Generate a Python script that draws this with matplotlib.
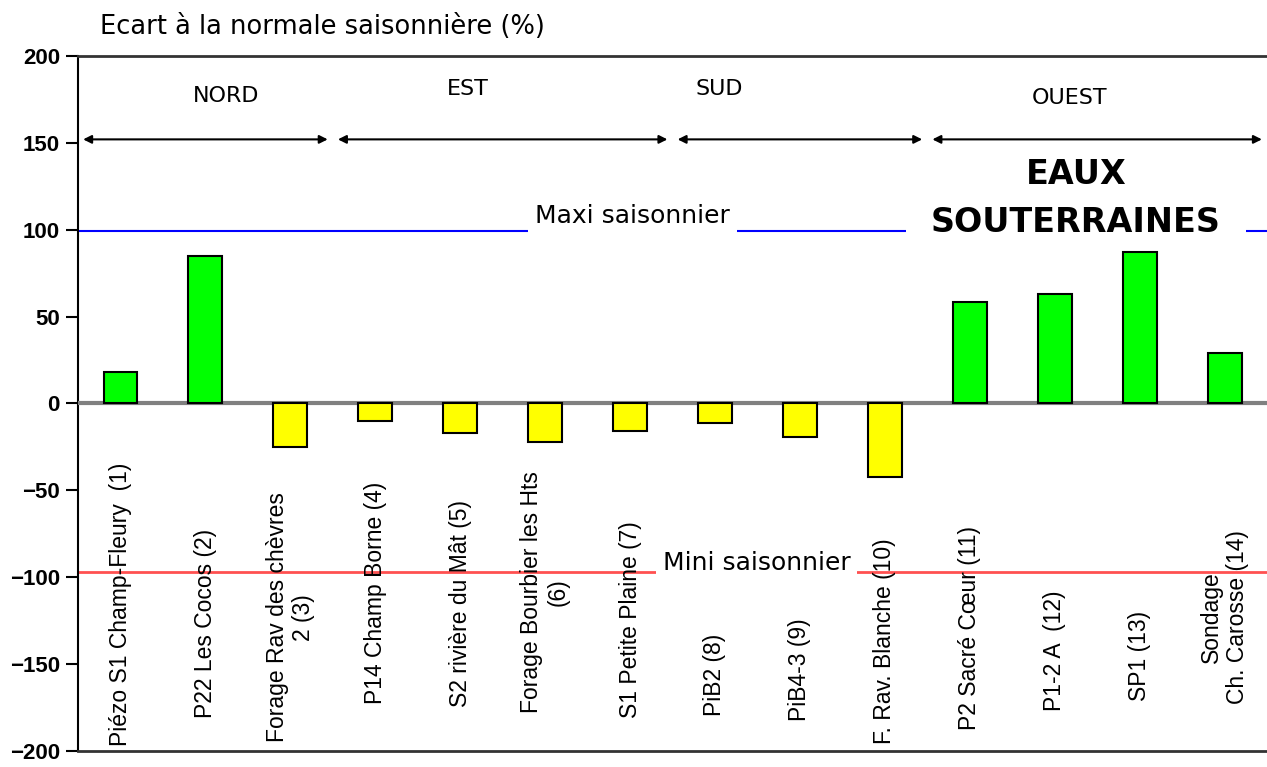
import matplotlib.pyplot as plt
import numpy as np

# Données : écart à la normale saisonnière (%) pour chaque piézomètre
stations = ['Piézo S1 Champ-Fleury  (1)', 'P22 Les Cocos (2)',
            'Forage Rav des chèvres\n2 (3)', 'P14 Champ Borne (4)',
            'S2 rivière du Mât (5)', 'Forage Bourbier les Hts\n(6)',
            'S1 Petite Plaine (7)', 'PiB2 (8)', 'PiB4-3 (9)',
            'F. Rav. Blanche (10)', 'P2 Sacré Cœur (11)', 'P1-2 A  (12)',
            'SP1 (13)', 'Sondage\nCh. Carosse (14)']
ecarts = [18, 85, -25, -10, -17, -22, -16, -11.5, -19.5, -42.5, 58.5, 63, 87, 29]

maxi_saisonnier = 99
mini_saisonnier = -97

# Secteurs géographiques (indices des stations de début et de fin)
secteurs = ['NORD', 'EST', 'SUD', 'OUEST']
secteur_debut = [0, 3, 7, 10]
secteur_fin = [2, 6, 9, 13]

# position des noms de secteurs (x, y) et bas des étiquettes, comme sur l'original
pos_secteurs = [(1.24, 177), (4.09, 181), (7.05, 181), (11.18, 176)]
bas_etiquettes = [-197, -181, -195, -173, -175, -178, -181,
                  -180, -183, -196, -188, -177, -171, -173]

x = np.arange(len(stations))
couleurs = ['#00ff00' if v >= 0 else '#ffff00' for v in ecarts]

fig = plt.figure(figsize=(12.67, 7.67), dpi=100)
ax = fig.add_axes([0.0616, 0.021, 0.9384, 0.906])

# Barres
ax.bar(x, ecarts, width=0.4, color=couleurs, edgecolor='black', linewidth=1.5, zorder=4)
ax.axhline(0, color='#808080', linewidth=3, zorder=3)

# Lignes maxi / mini saisonnier
ax.axhline(maxi_saisonnier, color='#0000ff', linewidth=1.5, zorder=1)
ax.axhline(mini_saisonnier, color='#ff5050', linewidth=2, zorder=1)
ax.text(7.5 - 1.5 + 0.03, maxi_saisonnier + 9, 'Maxi saisonnier', ha='center', va='center', fontsize=18,
        family='DejaVu Sans', bbox=dict(facecolor='white', edgecolor='none', pad=5), zorder=2)
ax.text(7.49, mini_saisonnier + 5, 'Mini saisonnier', ha='center', va='center', fontsize=18,
        family='DejaVu Sans', bbox=dict(facecolor='white', edgecolor='none', pad=5), zorder=2)
ax.text(11.25, 118, 'EAUX\nSOUTERRAINES', ha='center', va='center', fontsize=24,
        fontweight='bold', family='DejaVu Sans', linespacing=1.6,
        bbox=dict(facecolor='white', edgecolor='none', pad=18), zorder=2)

# Flèches des secteurs
for nom, d, f, (px, py) in zip(secteurs, secteur_debut, secteur_fin, pos_secteurs):
    ax.annotate('', xy=(d - 0.44, 152), xytext=(f + 0.44, 152),
                arrowprops=dict(arrowstyle='<|-|>', color='black', lw=1.5,
                                mutation_scale=12, shrinkA=0, shrinkB=0))
    ax.text(px, py, nom, ha='center', va='center', fontsize=16, family='DejaVu Sans')

# Étiquettes des stations (verticales, dans le graphique)
for xi, nom, bas in zip(x, stations, bas_etiquettes):
    ax.text(xi, bas, nom, rotation=90, ha='center', va='bottom', fontsize=16.5,
            family='Liberation Sans', multialignment='center', zorder=5)

ax.set_xlim(-0.5, 13.5)
ax.set_ylim(-200, 200)
ax.set_xticks([])
ax.set_yticks(np.arange(-200, 201, 50))
ax.tick_params(axis='y', length=9, width=1.5, pad=4)
for lab in ax.get_yticklabels():
    lab.set_fontweight('bold')
    lab.set_fontsize(16)
    lab.set_family('Liberation Sans')

ax.spines['right'].set_visible(False)
ax.spines['left'].set_linewidth(1.5)
ax.spines['top'].set_linewidth(2)
ax.spines['bottom'].set_linewidth(2)
ax.spines['top'].set_color('#333333')
ax.spines['bottom'].set_color('#333333')

fig.text(0.079, 0.965, 'Ecart à la normale saisonnière (%)', fontsize=18.5,
         family='DejaVu Sans', va='center', ha='left')

fig.savefig('out.png', dpi=100)
